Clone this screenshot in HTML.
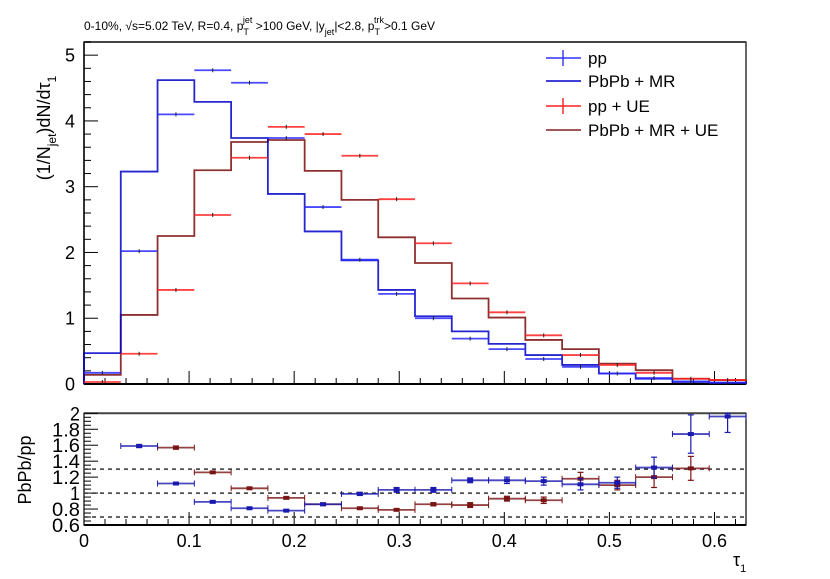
<!DOCTYPE html>
<html><head><meta charset="utf-8">
<style>
body{margin:0;background:#fff;}
svg{display:block;font-family:"Liberation Sans",Arial,sans-serif;}
</style></head>
<body>
<svg id="c" width="830" height="579" viewBox="0 0 830 579" xmlns="http://www.w3.org/2000/svg">
<text x="84" y="30" font-size="12">0-10%, √s=5.02 TeV, R=0.4, p<tspan dy="5" font-size="9">T</tspan><tspan dy="-12" dx="-6" font-size="9">jet</tspan><tspan dy="7"> &gt;100 GeV, |y</tspan><tspan dy="5" font-size="9">jet</tspan><tspan dy="-5">|&lt;2.8, p</tspan><tspan dy="5" font-size="9">T</tspan><tspan dy="-12" dx="-6" font-size="9">trk</tspan><tspan dy="7">&gt;0.1 GeV</tspan></text>
<text transform="translate(50,128) rotate(-90)" text-anchor="middle" font-size="18">(1/N<tspan dy="6" font-size="12">jet</tspan><tspan dy="-6">)dN/dτ</tspan><tspan dy="6" font-size="12">1</tspan></text>
<text transform="translate(31,470) rotate(-90)" text-anchor="middle" font-size="18">PbPb/pp</text>
<text x="733" y="566" font-size="18">τ<tspan dy="6" font-size="11">1</tspan></text>
<g id="legend">
<g><line x1="546" y1="58" x2="581" y2="58" stroke="#3030ff" stroke-width="1.6"/><line x1="563" y1="50" x2="563" y2="66" stroke="#3030ff" stroke-width="1.4"/><text x="588" y="64" font-size="17">pp</text></g>
<g><line x1="546" y1="81" x2="581" y2="81" stroke="#0000cc" stroke-width="1.6"/><text x="588" y="87" font-size="17">PbPb + MR</text></g>
<g><line x1="546" y1="106" x2="581" y2="106" stroke="#ff2020" stroke-width="1.6"/><line x1="563" y1="98" x2="563" y2="114" stroke="#ff2020" stroke-width="1.4"/><text x="588" y="112" font-size="17">pp + UE</text></g>
<g><line x1="546" y1="130" x2="581" y2="130" stroke="#802020" stroke-width="1.6"/><text x="588" y="136" font-size="17">PbPb + MR + UE</text></g>
</g>
</svg>
<script>
const binEdgesStart = 0, binWidth = 0.035, nBins = 18;
const ppValues = [0.17,2.02,4.10,4.77,4.58,3.74,2.69,1.89,1.37,1.00,0.69,0.53,0.38,0.26,0.16,0.09,0.04,0.02];
const pbpbMrValues = [0.47,3.23,4.62,4.29,3.74,2.89,2.32,1.88,1.43,1.03,0.80,0.61,0.44,0.29,0.16,0.08,0.03,0.02];
const ppUeValues = [0.03,0.46,1.43,2.57,3.44,3.91,3.80,3.47,2.81,2.14,1.53,1.09,0.74,0.44,0.29,0.17,0.08,0.06];
const pbpbMrUeValues = [0.14,1.05,2.25,3.25,3.68,3.71,3.24,2.80,2.23,1.84,1.30,1.01,0.67,0.53,0.31,0.21,0.08,0.06];
const ratioMrValues = [null,1.59,1.12,0.89,0.81,0.78,0.86,0.99,1.04,1.04,1.16,1.16,1.15,1.11,1.13,1.32,1.74,1.96];
const ratioMrErrors = [0,0.02,0.01,0.01,0.01,0.01,0.01,0.02,0.03,0.03,0.03,0.04,0.05,0.07,0.07,0.13,0.24,0.20];
const ratioUeValues = [null,null,1.57,1.26,1.06,0.94,0.86,0.81,0.79,0.86,0.85,0.93,0.91,1.18,1.10,1.20,1.31,null];
const ratioUeErrors = [0,0,0.02,0.01,0.01,0.01,0.01,0.01,0.01,0.02,0.03,0.03,0.04,0.08,0.06,0.13,0.15,0];
const xTickLabels = ["0","0.1","0.2","0.3","0.4","0.5","0.6"];
const yTickLabels = ["0","1","2","3","4","5"];
const ratioTickLabels = ["0.6","0.8","1","1.2","1.4","1.6","1.8","2"];
const refLines = [0.7,1.0,1.3];

const svg=document.getElementById('c');
const NS='http://www.w3.org/2000/svg';
const L=84,R=746,T1=42,B1=384,T2=413.3,B2=525;
const xMax=0.63,yMax=5.2,rMin=0.6,rMax=2.0;
const X=v=>L+(v/xMax)*(R-L);
const Y=v=>B1-(v/yMax)*(B1-T1);
const RY=v=>B2-(v-rMin)/(rMax-rMin)*(B2-T2);
function mk(tag,attrs,parent){const e=document.createElementNS(NS,tag);for(const k in attrs)e.setAttribute(k,attrs[k]);(parent||svg).appendChild(e);return e;}
function grp(name){const g=mk('g',{});return g;}

const fr=grp('main-frame');
mk('rect',{x:L,y:T1,width:R-L,height:B1-T1,fill:'none',stroke:'#000','stroke-width':1.2},fr);
mk('line',{x1:L,y1:T1,x2:R,y2:T1,stroke:'#444','stroke-width':2},fr);
const fr2=grp('ratio-frame');
mk('rect',{x:L,y:T2,width:R-L,height:B2-T2,fill:'none',stroke:'#000','stroke-width':1.2},fr2);
mk('line',{x1:L,y1:T2,x2:R,y2:T2,stroke:'#444','stroke-width':2},fr2);

[[B1,'main-x-axis'],[B2,'ratio-x-axis']].forEach(([by,nm])=>{
  const g=grp(nm);
  for(let i=0;i*0.02<=xMax+1e-9;i++){const v=i*0.02;const maj=i%5==0;mk('line',{x1:X(v),x2:X(v),y1:by,y2:by-(maj?13:6),stroke:'#000','stroke-width':1},g);}
  mk('line',{x1:L,x2:R,y1:by,y2:by,stroke:'#000','stroke-width':2},g);
});
const xl=grp('x-tick-labels');
xTickLabels.forEach((t,i)=>{const e=mk('text',{x:X(i*0.1),y:B2+22,'font-size':18,'text-anchor':'middle'},xl);e.textContent=t;});
const yg=grp('main-y-axis');
for(let i=0;i*0.2<=yMax+1e-9;i++){const v=i*0.2;const maj=i%5==0;mk('line',{x1:L,x2:L+(maj?14:7),y1:Y(v),y2:Y(v),stroke:'#000','stroke-width':1},yg);}
mk('line',{x1:L,x2:L,y1:T1,y2:B1,stroke:'#000','stroke-width':1.5},yg);
yTickLabels.forEach((t,i)=>{const e=mk('text',{x:L-9,y:Y(i)+6.5,'font-size':18,'text-anchor':'end'},yg);e.textContent=t;});
const rg=grp('ratio-y-axis');
for(let i=0;rMin+i*0.05<=rMax+1e-9;i++){const v=rMin+i*0.05;const maj=i%4==0;mk('line',{x1:L,x2:L+(maj?14:7),y1:RY(v),y2:RY(v),stroke:'#000','stroke-width':1},rg);}
ratioTickLabels.forEach((t,i)=>{const e=mk('text',{x:L-4,y:RY(0.6+i*0.2)+7,'font-size':19,'text-anchor':'end',textLength:t.length>1?28:10,lengthAdjust:'spacingAndGlyphs'},rg);e.textContent=t;});
const rl=grp('ratio-reference-lines');
refLines.forEach(v=>mk('line',{x1:L,x2:R,y1:RY(v),y2:RY(v),stroke:'#333','stroke-width':1.5,'stroke-dasharray':'4,4'},rl));

function hist(vals,color,name){
  const g=grp(name);let d='M'+X(0)+' '+Y(0);
  vals.forEach((v,i)=>{d+=' L'+X(i*binWidth)+' '+Y(v)+' L'+X((i+1)*binWidth)+' '+Y(v);});
  d+=' L'+X(nBins*binWidth)+' '+Y(0);
  const p=mk('path',{d:d,fill:'none',stroke:color,'stroke-width':1.8,'stroke-opacity':0.85},g);
  
}
function points(vals,color,name){
  const g=grp(name);
  vals.forEach((v,i)=>{const y=Y(v),xc=X((i+0.5)*binWidth);
    const l=mk('line',{x1:X(i*binWidth),x2:X((i+1)*binWidth),y1:y,y2:y,stroke:color,'stroke-width':1.8,'stroke-opacity':0.85},g);
    
    mk('line',{x1:xc,x2:xc,y1:y-2,y2:y+2,stroke:'#222','stroke-width':1},g);});
}
function ratio(vals,errs,color,name){
  const g=grp(name);
  vals.forEach((v,i)=>{if(v===null)return;const y=RY(v),xc=X((i+0.5)*binWidth),x0=X(i*binWidth),x1=X((i+1)*binWidth);
    const l=mk('line',{x1:x0,x2:x1,y1:y,y2:y,stroke:color,'stroke-width':1.8,'stroke-opacity':0.8},g);
    
    mk('line',{x1:x0,x2:x0,y1:y-3,y2:y+3,stroke:color,'stroke-width':1},g);
    mk('line',{x1:x1,x2:x1,y1:y-3,y2:y+3,stroke:color,'stroke-width':1},g);
    const e=Math.max(errs[i],0.01);const ya=RY(Math.min(v+e,rMax)),yb=RY(v-e);
    mk('line',{x1:xc,x2:xc,y1:ya,y2:yb,stroke:color,'stroke-width':1.2},g);
    mk('line',{x1:xc-3,x2:xc+3,y1:ya,y2:ya,stroke:color,'stroke-width':1.2},g);
    mk('line',{x1:xc-3,x2:xc+3,y1:yb,y2:yb,stroke:color,'stroke-width':1.2},g);
    mk('rect',{x:xc-3,y:y-2,width:6,height:4,fill:color},g);});
}
hist(pbpbMrUeValues,'#7a0c0c','pbpb-mr-ue-hist');
hist(pbpbMrValues,'#0000c8','pbpb-mr-hist');
points(ppUeValues,'#ff2020','pp-ue-points');
points(ppValues,'#2828ff','pp-points');
ratio(ratioUeValues,ratioUeErrors,'#7a1515','ratio-mr-ue');
ratio(ratioMrValues,ratioMrErrors,'#1a1ab0','ratio-mr');
svg.appendChild(document.getElementById('legend'));
</script>
</body></html>
